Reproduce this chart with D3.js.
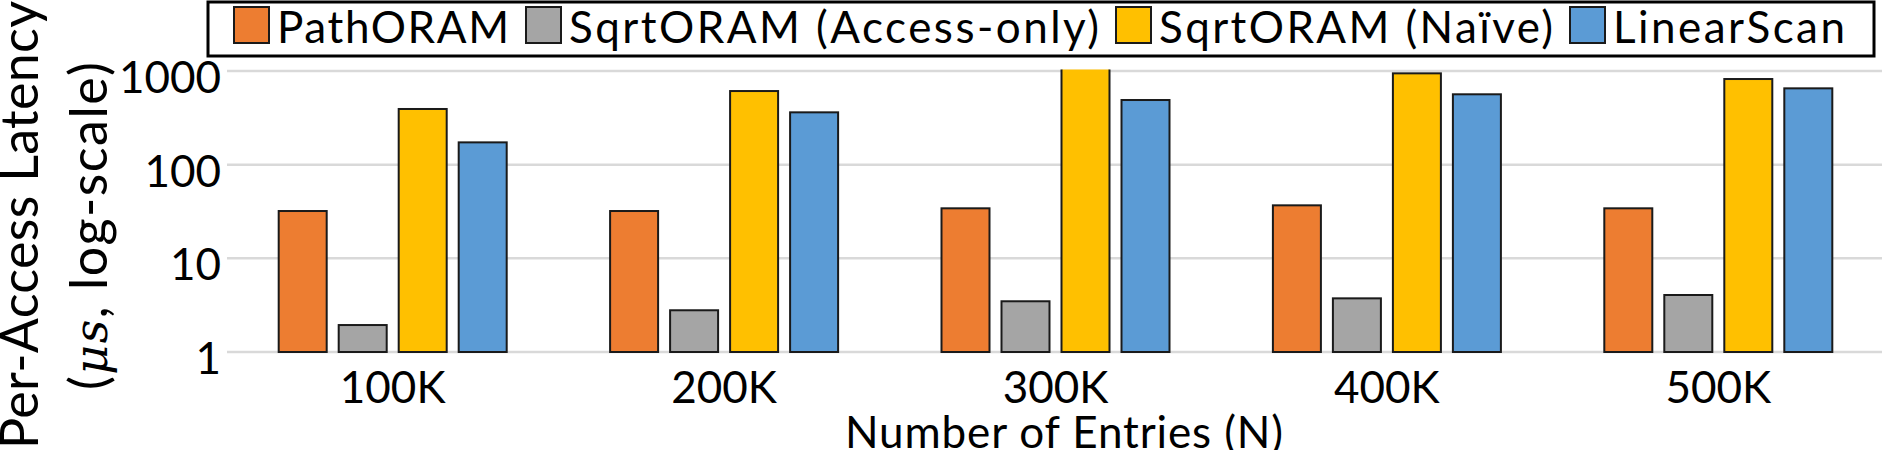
<!DOCTYPE html>
<html>
<head>
<meta charset="utf-8">
<script src="https://cdn.jsdelivr.net/npm/d3@7"></script>
<style>
  html, body { margin: 0; padding: 0; background: #fff; overflow: hidden; }
  svg { display: block; font-family: Lato, "Open Sans", sans-serif; }
</style>
</head>
<body>
<svg id="chart" width="1882" height="450"></svg>
<script>
// ---- data ----
const categories = ["100K", "200K", "300K", "400K", "500K"];
const seriesNames = ["PathORAM", "SqrtORAM (Access-only)", "SqrtORAM (Naïve)", "LinearScan"];
const pathORAM   = [32.0, 32.0, 34.2, 36.8, 34.2];
const sqrtAccess = [1.94, 2.79, 3.48, 3.74, 4.06];
const sqrtNaive  = [393, 611, 1100, 944, 821];
const linearScan = [173, 362, 490, 564, 653];
const yTicks = [1, 10, 100, 1000];
const seriesColors = ["#ED7D31", "#A5A5A5", "#FFC000", "#5B9BD5"];
const xTitle = "Number of Entries (N)";
const yTitle1 = "Per-Access Latency";

const seriesValues = [pathORAM, sqrtAccess, sqrtNaive, linearScan];

// ---- layout ----
const svg = d3.select("#chart");
const plot = { left: 227, right: 1884, top: 71, bottom: 352 };

const x0 = d3.scaleBand().domain(categories)
  .range([plot.left, plot.right]).paddingInner(0.312).paddingOuter(0.156);
const x1 = d3.scaleBand().domain(d3.range(seriesNames.length))
  .range([0, x0.bandwidth()]).paddingInner(0.2).paddingOuter(0);
const y = d3.scaleLog().domain([1, 1000]).range([plot.bottom, plot.top]);

svg.append("defs").append("clipPath").attr("id", "plotclip")
  .append("rect").attr("x", 0).attr("y", plot.top - 1.5)
  .attr("width", 1882).attr("height", 450);

// gridlines
svg.append("g").selectAll("line").data(yTicks).join("line")
  .attr("x1", plot.left).attr("x2", plot.right)
  .attr("y1", d => y(d)).attr("y2", d => y(d))
  .attr("stroke", "#D9D9D9").attr("stroke-width", 2.5);

// y tick labels
svg.append("g").selectAll("text").data(yTicks).join("text")
  .attr("x", 221).attr("y", d => y(d) + 22)
  .attr("text-anchor", "end").attr("font-size", 44).attr("fill", "#000")
  .text(d => d3.format("d")(d));

// bars
const groups = svg.append("g").attr("clip-path", "url(#plotclip)")
  .selectAll("g").data(categories).join("g")
  .attr("transform", c => `translate(${x0(c)},0)`);
groups.selectAll("rect")
  .data((c, ci) => seriesValues.map((vals, si) => ({ si, v: vals[ci] })))
  .join("rect")
  .attr("x", d => x1(d.si))
  .attr("width", x1.bandwidth())
  .attr("y", d => y(d.v))
  .attr("height", d => y(1) - y(d.v))
  .attr("fill", d => seriesColors[d.si])
  .attr("stroke", "#1a1a1a").attr("stroke-width", 2);

// x tick labels
svg.append("g").selectAll("text").data(categories).join("text")
  .attr("x", c => x0(c) + x0.bandwidth() / 2).attr("y", 403)
  .attr("text-anchor", "middle").attr("font-size", 44).attr("fill", "#000")
  .text(c => c);

// x title
svg.append("text").attr("x", 1064).attr("y", 448)
  .attr("text-anchor", "middle").attr("font-size", 44).attr("fill", "#000")
  .attr("textLength", 438).attr("lengthAdjust", "spacing")
  .text(xTitle);

// y title (two lines, rotated)
const yt = svg.append("g").attr("transform", "rotate(-90)");
yt.append("text").attr("x", -225).attr("y", 38)
  .attr("text-anchor", "middle").attr("font-size", 52).attr("fill", "#000")
  .attr("textLength", 448).attr("lengthAdjust", "spacing")
  .text(yTitle1);
const l2 = yt.append("text").attr("x", -226).attr("y", 107)
  .attr("text-anchor", "middle").attr("font-size", 52).attr("fill", "#000")
  .attr("textLength", 328).attr("lengthAdjust", "spacing");
l2.append("tspan").text("(");
l2.append("tspan").attr("font-style", "italic").attr("font-family", "'DejaVu Serif', serif").attr("font-size", 46).text("μs");
l2.append("tspan").text(", log-scale)");

// legend
const legend = svg.append("g");
legend.append("rect").attr("x", 208).attr("y", 2).attr("width", 1666).attr("height", 54)
  .attr("fill", "#fff").attr("stroke", "#000").attr("stroke-width", 3);
const legendTextWidths = [232, 530, 394, 232];
let lx = 234;
seriesNames.forEach((name, i) => {
  legend.append("rect").attr("x", lx).attr("y", 7).attr("width", 35).attr("height", 36)
    .attr("fill", seriesColors[i]).attr("stroke", "#1a1a1a").attr("stroke-width", 2);
  legend.append("text").attr("x", lx + 43).attr("y", 43)
    .attr("font-size", 44).attr("fill", "#000")
    .attr("textLength", legendTextWidths[i]).attr("lengthAdjust", "spacing")
    .text(name);
  lx += 43 + legendTextWidths[i] + 17;
});
</script>
</body>
</html>
